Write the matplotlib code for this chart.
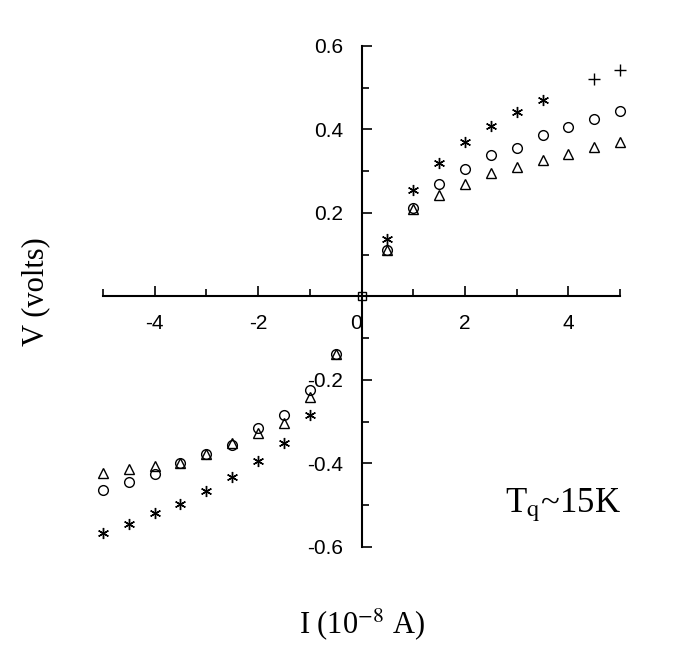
import matplotlib.pyplot as plt
from matplotlib.ticker import MultipleLocator

# current I (1e-8 A) and voltage V (volts)
i_pos = [0.5, 1.0, 1.5, 2.0, 2.5, 3.0, 3.5, 4.0, 4.5, 5.0]
v_circle_pos = [0.11, 0.212, 0.268, 0.306, 0.338, 0.356, 0.386, 0.406, 0.426, 0.444]
v_tri_pos = [0.11, 0.21, 0.244, 0.27, 0.296, 0.31, 0.326, 0.342, 0.358, 0.37]
i_star_pos = [0.5, 1.0, 1.5, 2.0, 2.5, 3.0, 3.5]
v_star_pos = [0.138, 0.254, 0.32, 0.37, 0.408, 0.442, 0.47]
i_plus = [4.5, 5.0]
v_plus = [0.52, 0.542]

i_neg = [-0.5, -1.0, -1.5, -2.0, -2.5, -3.0, -3.5, -4.0, -4.5, -5.0]
v_circle_neg = [-0.137, -0.225, -0.283, -0.315, -0.357, -0.378, -0.40, -0.425, -0.444, -0.464]
v_tri_neg = [-0.137, -0.24, -0.303, -0.328, -0.352, -0.378, -0.40, -0.406, -0.414, -0.422]
i_star_neg = [-1.0, -1.5, -2.0, -2.5, -3.0, -3.5, -4.0, -4.5, -5.0]
v_star_neg = [-0.284, -0.35, -0.394, -0.433, -0.466, -0.498, -0.519, -0.545, -0.567]

plt.rcParams["mathtext.fontset"] = "stix"

fig = plt.figure(figsize=(6.77, 6.55), dpi=100)
ax = fig.add_axes([0.152, 0.165, 0.764, 0.765])

mk = dict(ls="none", color="black", mfc="none", mew=1.0, clip_on=False)
ax.plot(i_pos, v_circle_pos, marker="o", ms=7, **mk)
ax.plot(i_neg, v_circle_neg, marker="o", ms=7, **mk)
ax.plot(i_pos, v_tri_pos, marker="^", ms=7, **mk)
ax.plot(i_neg, v_tri_neg, marker="^", ms=7, **mk)
ax.plot(i_star_pos, v_star_pos, marker=(6, 2, 0), ms=8, **mk)
ax.plot(i_star_neg, v_star_neg, marker=(6, 2, 0), ms=8, **mk)
ax.plot(i_plus, v_plus, marker="+", ms=9, **mk)
ax.plot([0], [0], marker="s", ms=6, **mk)

ax.set_xlim(-5, 5)
ax.set_ylim(-0.6, 0.6)
ax.spines["left"].set_position(("data", 0))
ax.spines["bottom"].set_position(("data", 0))
ax.spines["top"].set_visible(False)
ax.spines["right"].set_visible(False)
for s in ["left", "bottom"]:
    ax.spines[s].set_linewidth(1.5)

ax.xaxis.set_minor_locator(MultipleLocator(1))
ax.yaxis.set_minor_locator(MultipleLocator(0.1))
ax.set_xticks([-4, -2, 0, 2, 4])
ax.set_yticks([-0.6, -0.4, -0.2, 0.2, 0.4, 0.6])
ax.set_yticklabels(["-0.6", "-0.4", "-0.2", "0.2", "0.4", "0.6"])
ax.set_xticklabels(["-4", "-2", "0", "2", "4"])
ax.tick_params(which="both", direction="in", width=1.2, labelsize=15)
ax.tick_params(axis="x", which="major", length=7, pad=13)
ax.tick_params(axis="y", which="major", length=7, pad=13)
ax.tick_params(which="minor", length=5)
for lab in ax.get_xticklabels() + ax.get_yticklabels():
    lab.set_family("Liberation Sans")
# the "0" sits just left of the vertical axis
ax.get_xticklabels()[2].set_horizontalalignment("right")

fig.text(36 / 677, 1 - 292 / 655, "V (volts)", rotation=90, ha="center", va="center",
         fontsize=22, family="Liberation Serif")
fig.text(362 / 677, 1 - 633 / 655, r"I (10$^{-8}$ A)", ha="center", va="baseline",
         fontsize=22, family="Liberation Serif")
fig.text(563 / 677, 1 - 512 / 655, r"T$_\mathrm{q}$~15K", ha="center", va="baseline",
         fontsize=25, family="Liberation Serif")

fig.savefig("out.png", dpi=100)
